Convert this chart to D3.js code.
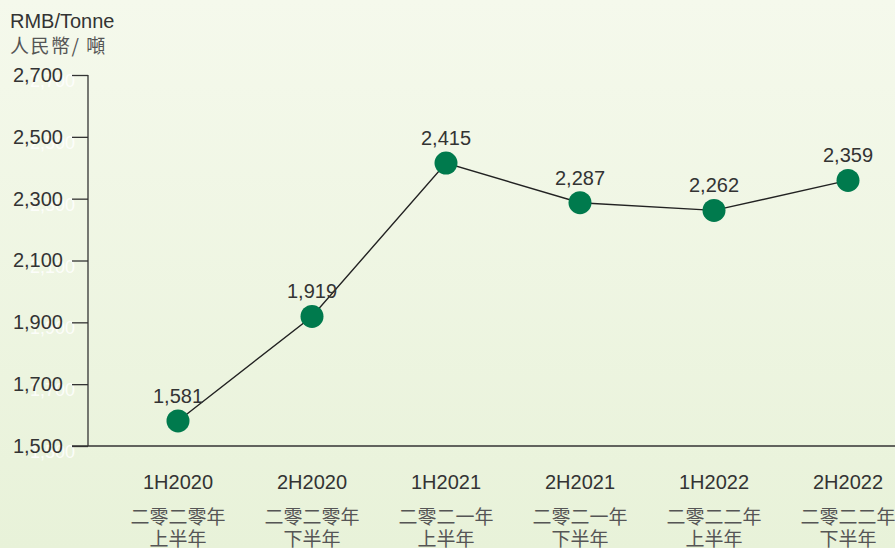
<!DOCTYPE html>
<html>
<head>
<meta charset="utf-8">
<script src="https://cdn.jsdelivr.net/npm/d3@7"></script>
<style>
  body { margin: 0; padding: 0; }
  svg { display: block; }
</style>
</head>
<body>
<div id="chart"></div>
<script>
var periods = ["1H2020", "2H2020", "1H2021", "2H2021", "1H2022", "2H2022"];
var periodsZh1 = ["二零二零年", "二零二零年", "二零二一年", "二零二一年", "二零二二年", "二零二二年"];
var periodsZh2 = ["上半年", "下半年", "上半年", "下半年", "上半年", "下半年"];
var prices = [1581, 1919, 2415, 2287, 2262, 2359];
var yTicks = [1500, 1700, 1900, 2100, 2300, 2500, 2700];

var width = 895, height = 548;

var svg = d3.select("#chart").append("svg")
  .attr("width", width)
  .attr("height", height);

var grad = svg.append("defs").append("linearGradient")
  .attr("id", "bg")
  .attr("x1", 0).attr("y1", 0).attr("x2", 0).attr("y2", 1);
grad.append("stop").attr("offset", "0%").attr("stop-color", "#f5f9ec");
grad.append("stop").attr("offset", "100%").attr("stop-color", "#e8f2d9");

svg.append("rect")
  .attr("width", width)
  .attr("height", height)
  .attr("fill", "url(#bg)");

var x = d3.scalePoint()
  .domain(periods)
  .range([178, 848]);

var y = d3.scaleLinear()
  .domain([1500, 2700])
  .range([446, 75]);

var font = "'Liberation Sans', Arial, sans-serif";
var cjk = "'Noto Sans CJK TC', sans-serif";
var ink = "#333";

// unit titles
svg.append("text")
  .text("RMB/Tonne")
  .attr("x", 10).attr("y", 28)
  .style("font-family", font)
  .style("font-size", "20px")
  .attr("fill", ink);

svg.append("text")
  .text("人民幣/ 噸")
  .attr("x", 10).attr("y", 53)
  .style("font-family", cjk)
  .style("font-size", "19px")
  .style("letter-spacing", "1.5px")
  .attr("fill", "#555");

// ghost white tick labels
svg.append("g").selectAll("text")
  .data(yTicks)
  .enter().append("text")
    .text(function(d){ return d3.format(",")(d); })
    .attr("x", 75)
    .attr("y", function(d){ return y(d) + 12; })
    .attr("text-anchor", "end")
    .style("font-family", font)
    .style("font-size", "18px")
    .attr("fill", "#ffffff")
    .attr("fill-opacity", 0.85);

// y axis
var yAxis = d3.axisLeft(y)
  .tickValues(yTicks)
  .tickSize(16)
  .tickPadding(9)
  .tickFormat(d3.format(","));

var gy = svg.append("g")
  .attr("transform", "translate(88,0)")
  .call(yAxis);
gy.select(".domain").attr("stroke", "#333").attr("stroke-width", 1.3).attr("d", "M0,75V446");
gy.selectAll(".tick line").attr("stroke", "#333").attr("stroke-width", 1.3);
gy.selectAll(".tick text")
  .style("font-family", font)
  .style("font-size", "20px")
  .attr("fill", ink);

// x axis line
svg.append("line")
  .attr("x1", 72).attr("x2", width)
  .attr("y1", y(1500)).attr("y2", y(1500))
  .attr("stroke", "#333")
  .attr("stroke-width", 1.3);

// x labels
var xl = svg.append("g");
xl.selectAll(".en")
  .data(periods)
  .enter().append("text")
    .attr("class", "en")
    .text(function(d){ return d; })
    .attr("x", function(d){ return x(d); })
    .attr("y", 489)
    .attr("text-anchor", "middle")
    .style("font-family", font)
    .style("font-size", "20px")
    .attr("fill", ink);

xl.selectAll(".zh1")
  .data(periods)
  .enter().append("text")
    .attr("class", "zh1")
    .text(function(d, i){ return periodsZh1[i]; })
    .attr("x", function(d){ return x(d); })
    .attr("y", 524)
    .attr("text-anchor", "middle")
    .style("font-family", cjk)
    .style("font-size", "19px")
    .attr("fill", "#555");

xl.selectAll(".zh2")
  .data(periods)
  .enter().append("text")
    .attr("class", "zh2")
    .text(function(d, i){ return periodsZh2[i]; })
    .attr("x", function(d){ return x(d); })
    .attr("y", 546)
    .attr("text-anchor", "middle")
    .style("font-family", cjk)
    .style("font-size", "19px")
    .attr("fill", "#555");

// line
var line = d3.line()
  .x(function(d, i){ return x(periods[i]); })
  .y(function(d){ return y(d); });

svg.append("path")
  .datum(prices)
  .attr("d", line)
  .attr("fill", "none")
  .attr("stroke", "#222")
  .attr("stroke-width", 1.4);

svg.selectAll(".dot")
  .data(prices)
  .enter().append("circle")
    .attr("class", "dot")
    .attr("cx", function(d, i){ return x(periods[i]); })
    .attr("cy", function(d){ return y(d); })
    .attr("r", 11.5)
    .attr("fill", "#007a4d");

svg.selectAll(".val")
  .data(prices)
  .enter().append("text")
    .attr("class", "val")
    .text(function(d){ return d3.format(",")(d); })
    .attr("x", function(d, i){ return x(periods[i]); })
    .attr("y", function(d){ return y(d) - 18; })
    .attr("text-anchor", "middle")
    .style("font-family", font)
    .style("font-size", "20px")
    .attr("fill", ink);
</script>
</body>
</html>
